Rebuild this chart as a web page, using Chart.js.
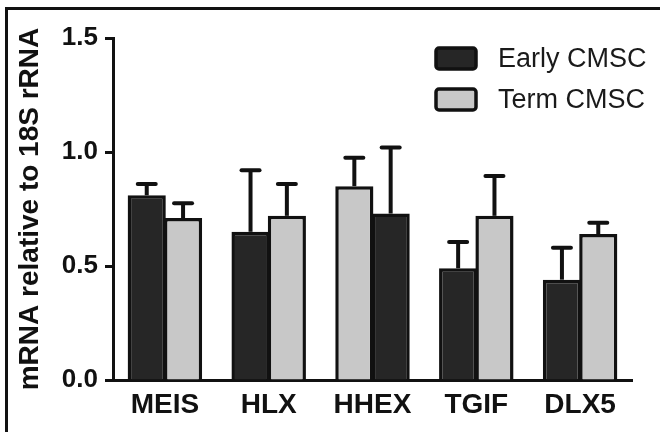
<!DOCTYPE html>
<html>
<head>
<meta charset="utf-8">
<script src="https://cdn.jsdelivr.net/npm/chart.js@4/dist/chart.umd.min.js"></script>
<style>
  html, body { margin: 0; padding: 0; background: #fff; }
  #wrap { position: relative; width: 665px; height: 432px; overflow: hidden; }
  #frame { position: absolute; left: 5px; top: 7px; width: 655px; height: 500px;
           border-top: 3px solid #111; border-left: 3px solid #111; box-sizing: border-box; pointer-events: none; }
  canvas { position: absolute; left: 0; top: 0; }
</style>
</head>
<body>
<div id="wrap">
  <canvas id="c" width="665" height="432"></canvas>
  <div id="frame"></div>
</div>
<script>
// ---- data ----
const categories = ['MEIS', 'HLX', 'HHEX', 'TGIF', 'DLX5'];
const seriesNames = ['Early CMSC', 'Term CMSC'];
const earlyMean = [0.81, 0.65, 0.73, 0.49, 0.44];
const earlyErr  = [0.05, 0.27, 0.29, 0.115, 0.14];
const termMean  = [0.71, 0.72, 0.85, 0.72, 0.64];
const termErr   = [0.065, 0.14, 0.125, 0.175, 0.05];
const termFirst = [false, false, true, false, false]; // HHEX drawn with Term bar in first slot
const yTicks = [0, 0.5, 1.0, 1.5];

// ---- styles ----
const DARK = '#262626', LIGHT = '#c8c8c8', INK = '#111111';
const seriesColors = [DARK, LIGHT];

// build slot datasets from the series arrays
const slot1 = categories.map((c, i) => termFirst[i] ? termMean[i] : earlyMean[i]);
const slot2 = categories.map((c, i) => termFirst[i] ? earlyMean[i] : termMean[i]);
const slot1Err = categories.map((c, i) => termFirst[i] ? termErr[i] : earlyErr[i]);
const slot2Err = categories.map((c, i) => termFirst[i] ? earlyErr[i] : termErr[i]);
const slot1Col = categories.map((c, i) => termFirst[i] ? LIGHT : DARK);
const slot2Col = categories.map((c, i) => termFirst[i] ? DARK : LIGHT);
const slotErrs = [slot1Err, slot2Err];

const errorBars = {
  id: 'errorBars',
  afterDatasetsDraw(chart) {
    const ctx = chart.ctx, y = chart.scales.y;
    ctx.save();
    ctx.strokeStyle = INK;
    chart.data.datasets.forEach((ds, di) => {
      const meta = chart.getDatasetMeta(di);
      meta.data.forEach((bar, i) => {
        const top = y.getPixelForValue(ds.data[i]);
        const hi = y.getPixelForValue(ds.data[i] + slotErrs[di][i]);
        ctx.lineWidth = 4;
        ctx.lineCap = 'butt';
        ctx.beginPath(); ctx.moveTo(bar.x, top); ctx.lineTo(bar.x, hi); ctx.stroke();
        ctx.lineCap = 'round';
        ctx.beginPath(); ctx.moveTo(bar.x - 9, hi); ctx.lineTo(bar.x + 9, hi); ctx.stroke();
      });
    });
    ctx.restore();
  }
};

const customLegend = {
  id: 'customLegend',
  afterDraw(chart) {
    const ctx = chart.ctx;
    ctx.save();
    const bx = 436, bw = 40, bh = 21, rows = [48, 89];
    seriesNames.forEach((name, k) => {
      const by = rows[k];
      ctx.fillStyle = seriesColors[k];
      ctx.strokeStyle = INK;
      ctx.lineWidth = 3.5;
      ctx.beginPath();
      ctx.roundRect(bx, by, bw, bh, 3);
      ctx.fill(); ctx.stroke();
      ctx.fillStyle = '#1a1a1a';
      ctx.font = '27px "Liberation Sans", Arial, sans-serif';
      ctx.textBaseline = 'middle';
      ctx.fillText(name, 498, by + bh / 2 + 1);
    });
    ctx.restore();
  }
};

new Chart(document.getElementById('c'), {
  type: 'bar',
  data: {
    labels: categories,
    datasets: [
      { label: 'slot1', data: slot1, backgroundColor: slot1Col, borderColor: INK, borderWidth: 3.5, borderSkipped: 'start' },
      { label: 'slot2', data: slot2, backgroundColor: slot2Col, borderColor: INK, borderWidth: 3.5, borderSkipped: 'start' }
    ]
  },
  options: {
    responsive: false,
    animation: false,
    devicePixelRatio: 1,
    layout: { padding: { left: 0, right: 33, top: 38, bottom: 0 } },
    datasets: { bar: { categoryPercentage: 0.7, barPercentage: 1.05 } },
    plugins: { legend: { display: false }, tooltip: { enabled: false } },
    scales: {
      x: {
        grid: { display: false, drawTicks: false },
        border: { display: true, width: 3, color: INK },
        ticks: { color: '#111', padding: 8, font: { family: '"Liberation Sans", Arial, sans-serif', size: 28, weight: 'bold' } },
        afterFit(s) { s.height = 52; }
      },
      y: {
        min: 0, max: 1.5,
        afterBuildTicks(s) { s.ticks = yTicks.map(v => ({ value: v })); },
        grid: { display: true, drawOnChartArea: false, drawTicks: true, tickLength: 8, tickWidth: 3, tickColor: INK },
        border: { display: true, width: 3, color: INK },
        ticks: { color: '#111', padding: 7, callback: v => v.toFixed(1),
                 font: { family: '"Liberation Sans", Arial, sans-serif', size: 26, weight: 'bold' } },
        title: { display: true, text: 'mRNA relative to 18S rRNA', color: '#111',
                 padding: { top: 13, bottom: 0 },
                 font: { family: '"Liberation Sans", Arial, sans-serif', size: 28, weight: 'bold' } },
        afterFit(s) { s.width = 113; }
      }
    }
  },
  plugins: [errorBars, customLegend]
});
</script>
</body>
</html>
